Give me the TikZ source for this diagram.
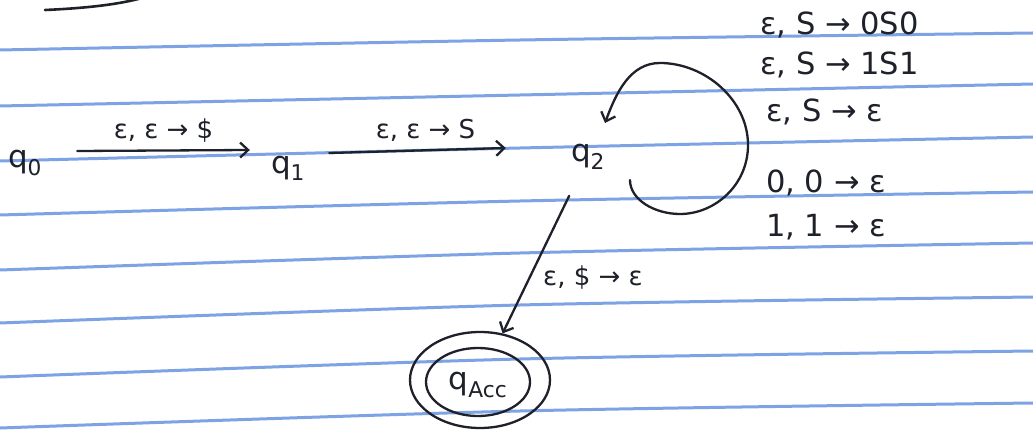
\documentclass[tikz,border=0pt]{standalone}
\usepackage{fontspec}
\setmainfont{DejaVu Sans}
\usetikzlibrary{arrows.meta,shapes.geometric}
\definecolor{ink}{RGB}{30,32,42}
\definecolor{rulecol}{RGB}{125,163,228}
\tikzset{
  statelab/.style={inner sep=1pt, text=ink, font=\fontsize{31}{33}\selectfont},
  edge/.style={draw=ink, line width=2.3pt, line cap=round,
    -{Straight Barb[length=8pt,width=15pt,line width=2.3pt]}},
  lab/.style={text=ink, font=\fontsize{26}{30}\selectfont, inner sep=0pt},
  looplab/.style={text=ink, font=\fontsize{30.5}{32}\selectfont, anchor=west, inner sep=0pt},
  ruling/.style={draw=rulecol, line width=3pt},
  ring/.style={draw=ink, line width=2.3pt, ellipse}
}
\begin{document}
\begin{tikzpicture}[x=1pt,y=-1pt]
\fill[white] (0,0) rectangle (1033,430);
\useasboundingbox (0,0) rectangle (1033,430);
% ruled paper lines
\foreach \a/\b/\c in {50/40/33, 106/95/84, 161/148/137, 215/201/192, 270/253/243, 323/305/297, 377/359/351, 428/411/403}
  \draw[ruling] plot[smooth] coordinates {(0,\a) (520,\b) (1033,\c)};
% stray stroke at top left
\draw[draw=ink, line width=2.6pt, line cap=round] (45,10) .. controls (90,8) and (120,4) .. (142,-2);
% states
\node[statelab] (q0) at (25,163) {q\textsubscript{0}};
\node[statelab] (q1) at (288,168) {q\textsubscript{1}};
\node[statelab] (q2) at (588,157) {q\textsubscript{2}};
\node[ring, minimum width=104pt, minimum height=68pt, inner sep=0pt] (qacc) at (478,382) {};
\node[statelab] (qacctext) at (478,385) {q\textsubscript{Acc}};
\node[ring, minimum width=140pt, minimum height=96pt] (qaccout) at (480,380) {};
% transitions
\draw[edge] ([xshift=34pt,yshift=12pt]q0.east) -- node[lab, above=7pt] {ε, ε → \$} ([xshift=-20pt,yshift=18pt]q1.west);
\draw[edge] ([xshift=23pt,yshift=15pt]q1.east) -- node[lab, above=8pt, xshift=8pt] {ε, ε → S} ([xshift=-64pt,yshift=9pt]q2.west);
\draw[edge] ([shift={(42,23)}]q2.center) .. controls ([shift={(42,43)}]q2.center) and ([shift={(67,57)}]q2.center) .. ([shift={(92,57)}]q2.center)
  .. controls ([shift={(127,57)}]q2.center) and ([shift={(160,28)}]q2.center) .. ([shift={(160,-12)}]q2.center)
  .. controls ([shift={(160,-57)}]q2.center) and ([shift={(117,-94)}]q2.center) .. ([shift={(72,-94)}]q2.center)
  .. controls ([shift={(42,-94)}]q2.center) and ([shift={(28,-64)}]q2.center) .. ([shift={(17,-34)}]q2.center);
\draw[edge, shorten <=28pt] (q2) -- (qaccout);
\node[lab, anchor=west] (l3) at (543,278) {ε, \$ → ε};
% self-loop labels
\node[looplab] (s1) at (760,25) {ε, S → 0S0};
\node[looplab] (s2) at (760,65) {ε, S → 1S1};
\node[looplab] (s3) at (766,112) {ε, S → ε};
\node[looplab] (s4) at (766,183) {0, 0 → ε};
\node[looplab] (s5) at (766,227) {1, 1 → ε};
\end{tikzpicture}
\end{document}
